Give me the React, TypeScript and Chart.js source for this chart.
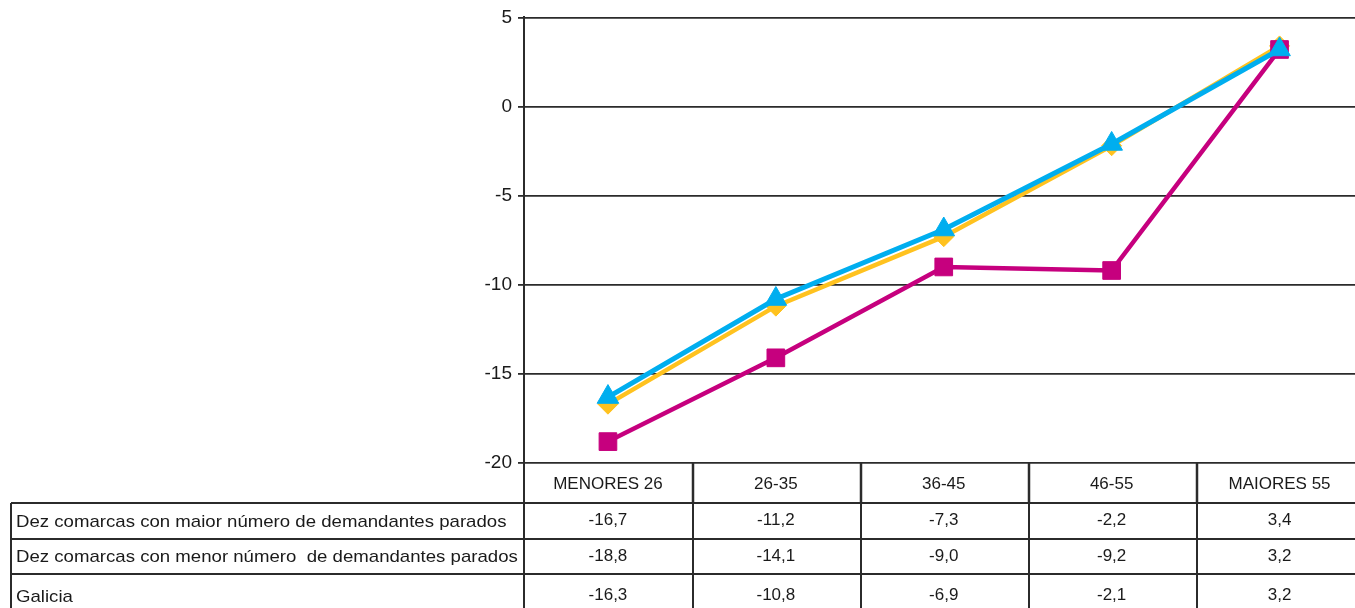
import React, { useEffect, useRef } from "react";
import { Chart, registerables } from "chart.js";

Chart.register(...registerables);

const categories = ["MENORES 26", "26-35", "36-45", "46-55", "MAIORES 55"];
const seriesNames = [
  "Dez comarcas con maior número de demandantes parados",
  "Dez comarcas con menor número  de demandantes parados",
  "Galicia",
];
const maiorValues = [-16.7, -11.2, -7.3, -2.2, 3.4];
const menorValues = [-18.8, -14.1, -9.0, -9.2, 3.2];
const galiciaValues = [-16.3, -10.8, -6.9, -2.1, 3.2];
const yTicks = [5, 0, -5, -10, -15, -20];

const FONT = "'Liberation Sans', Arial, Helvetica, sans-serif";
const LINE = "#2b2b2b";

const fmt = (v: number) => v.toFixed(1).replace(".", ",");

const tablePlugin = {
  id: "dataTable",
  afterDraw(chart: any) {
    const ctx = chart.ctx as CanvasRenderingContext2D;
    const area = chart.chartArea;
    const xs = chart.scales.x;
    const n = categories.length;
    const step = xs.getPixelForValue(1) - xs.getPixelForValue(0);
    const H = chart.height;
    const W = chart.width;
    const labelLeft = 11;
    const headerTop = area.bottom;
    const rowTops = [headerTop + 40, headerTop + 76, headerTop + 111];
    const labelY = [headerTop + 59, headerTop + 94, headerTop + 134];
    const numY = [headerTop + 57, headerTop + 93, headerTop + 132];
    const rows = [maiorValues, menorValues, galiciaValues];

    ctx.save();
    ctx.strokeStyle = LINE;
    ctx.lineWidth = 2;
    rowTops.forEach((y) => {
      ctx.beginPath();
      ctx.moveTo(labelLeft, y);
      ctx.lineTo(W, y);
      ctx.stroke();
    });
    ctx.beginPath();
    ctx.moveTo(labelLeft, rowTops[0]);
    ctx.lineTo(labelLeft, H);
    ctx.stroke();
    ctx.beginPath();
    ctx.moveTo(area.left, area.bottom);
    ctx.lineTo(area.left, H);
    ctx.stroke();
    for (let i = 1; i <= n; i++) {
      const x = Math.round(area.left + i * step) + 1;
      ctx.lineWidth = 2.5;
      ctx.beginPath();
      ctx.moveTo(x, headerTop);
      ctx.lineTo(x, rowTops[0]);
      ctx.stroke();
      ctx.lineWidth = 2;
      ctx.beginPath();
      ctx.moveTo(x, rowTops[0]);
      ctx.lineTo(x, H);
      ctx.stroke();
    }

    ctx.fillStyle = "#1a1a1a";
    ctx.textBaseline = "middle";
    ctx.textAlign = "center";
    ctx.font = `17px ${FONT}`;
    categories.forEach((c, i) => {
      ctx.fillText(c, xs.getPixelForValue(i), headerTop + 21);
    });
    rows.forEach((vals, r) => {
      ctx.font = `17px ${FONT}`;
      ctx.textAlign = "left";
      ctx.save();
      ctx.translate(labelLeft + 5, labelY[r]);
      ctx.scale(1.095, 1);
      ctx.fillText(seriesNames[r], 0, 0);
      ctx.restore();
      ctx.font = `17px ${FONT}`;
      ctx.textAlign = "center";
      vals.forEach((v, i) => {
        ctx.fillText(fmt(v), xs.getPixelForValue(i), numY[r]);
      });
    });
    ctx.restore();
  },
};

export default function App() {
  const ref = useRef<HTMLCanvasElement | null>(null);

  useEffect(() => {
    if (!ref.current) return;
    const chart = new Chart(ref.current, {
      type: "line",
      data: {
        labels: categories,
        datasets: [
          {
            label: seriesNames[0],
            data: maiorValues,
            borderColor: "#FFC21F",
            backgroundColor: "#FFC21F",
            borderWidth: 4.5,
            pointStyle: "rectRot",
            pointRadius: 10,
            pointBorderWidth: 1,
            pointBorderColor: "#FFC21F",
            pointBackgroundColor: "#FFC21F",
            tension: 0,
            order: 3,
          },
          {
            label: seriesNames[1],
            data: menorValues,
            borderColor: "#C6007E",
            backgroundColor: "#C6007E",
            borderWidth: 4.5,
            pointStyle: "rect",
            pointRadius: 12.5,
            pointBorderWidth: 1,
            pointBorderColor: "#C6007E",
            pointBackgroundColor: "#C6007E",
            tension: 0,
            order: 2,
          },
          {
            label: seriesNames[2],
            data: galiciaValues,
            borderColor: "#00AEEF",
            backgroundColor: "#00AEEF",
            borderWidth: 5,
            pointStyle: "triangle",
            pointRadius: 12.5,
            pointBorderWidth: 1,
            pointBorderColor: "#00AEEF",
            pointBackgroundColor: "#00AEEF",
            tension: 0,
            order: 1,
          },
        ],
      },
      options: {
        animation: false,
        responsive: false,
        events: [],
        layout: { padding: { top: 17, bottom: 145, right: 4, left: 0 } },
        plugins: { legend: { display: false }, tooltip: { enabled: false } },
        scales: {
          x: { type: "category", display: false, offset: true },
          y: {
            min: -20,
            max: 5,
            afterBuildTicks: (s: any) => {
              s.ticks = yTicks.map((v) => ({ value: v }));
            },
            afterFit: (s: any) => {
              s.width = 524;
            },
            border: { display: true, color: LINE, width: 2 },
            grid: {
              color: LINE,
              lineWidth: 1.8,
              tickLength: 6,
              drawTicks: true,
              tickColor: LINE,
            },
            ticks: {
              color: "#1a1a1a",
              font: { family: FONT, size: 19 },
              padding: 6,
            },
          },
        },
      },
      plugins: [tablePlugin],
    } as any);
    return () => chart.destroy();
  }, []);

  return (
    <div
      style={{
        position: "fixed",
        left: 0,
        top: 0,
        width: 1355,
        height: 608,
        overflow: "hidden",
        background: "#fff",
      }}
    >
      <canvas ref={ref} width={1377} height={608} style={{ display: "block" }} />
    </div>
  );
}
